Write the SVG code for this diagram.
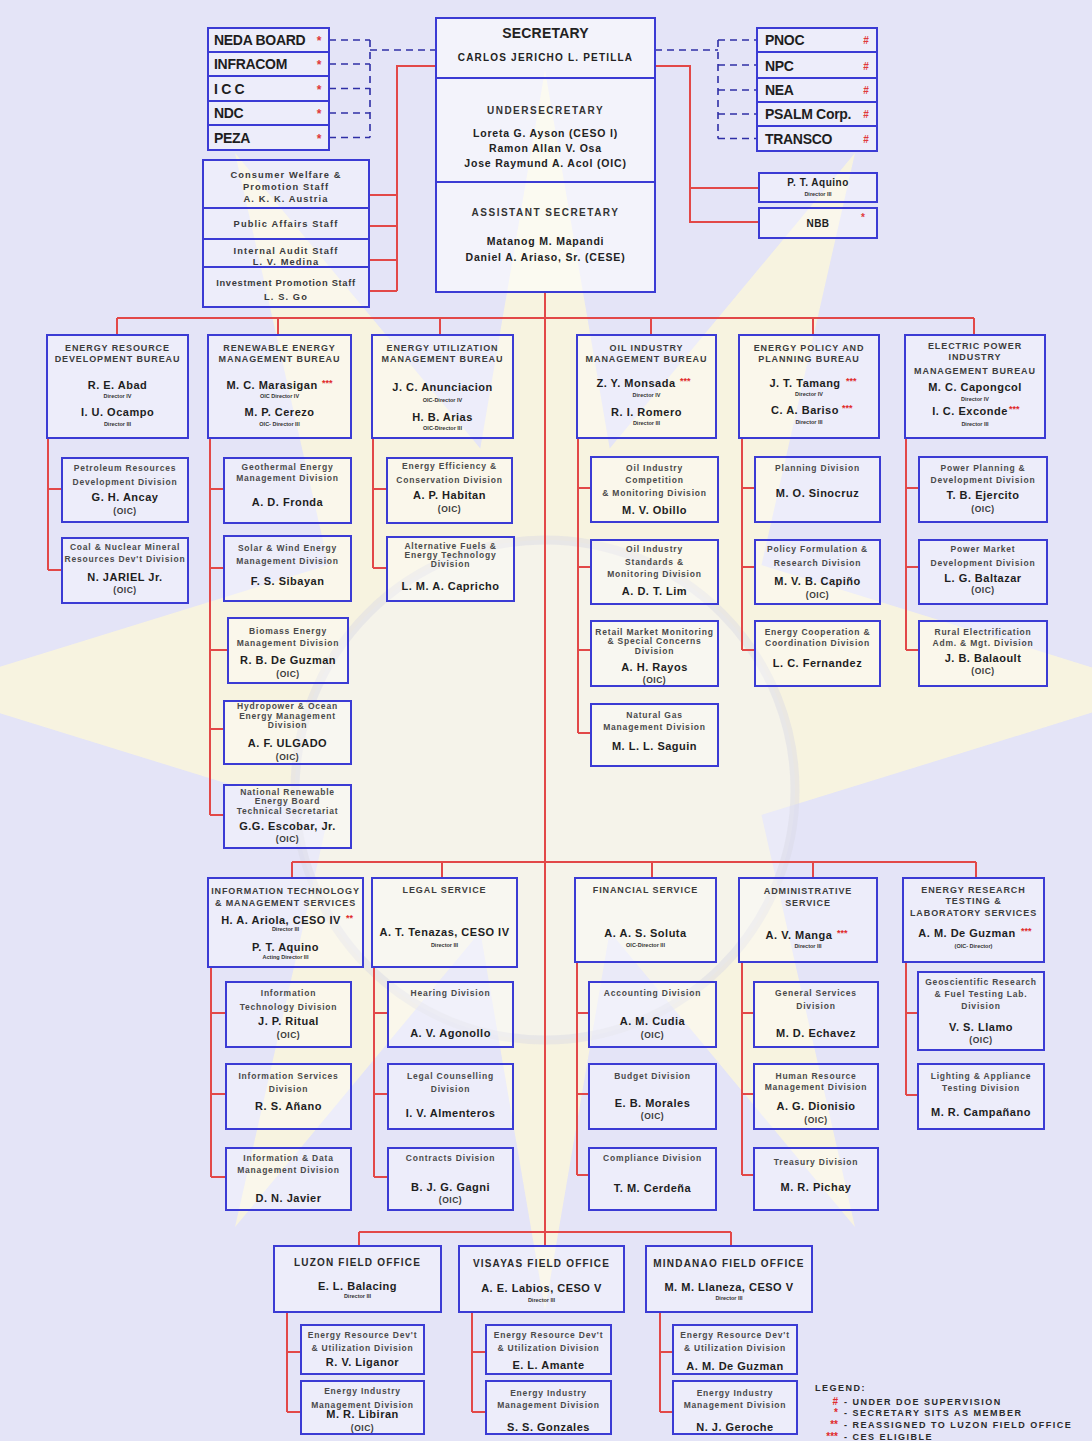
<svg xmlns="http://www.w3.org/2000/svg" width="1092" height="1441" viewBox="0 0 1092 1441">
<defs>
<style>
.box{fill:#ffffff;fill-opacity:.35;stroke:#3b3bd4;stroke-width:2}
.ln{fill:none;stroke:#e24848;stroke-width:2}
.dash{fill:none;stroke:#2f2fa6;stroke-width:1.6;stroke-dasharray:7 5}
.t{font-family:"Liberation Sans",Arial,Helvetica,sans-serif;font-weight:bold;text-anchor:middle;fill:#222}
.cm{font-size:14px;text-anchor:start;letter-spacing:-.3px;fill:#1e1e1e}
.hd{font-size:9px;letter-spacing:.9px;fill:#3c3c3c}
.nm{font-size:11px;letter-spacing:.5px;fill:#1e1e1e}
.sub{font-size:5.5px;fill:#333}
.dv{font-size:8.5px;letter-spacing:.8px;fill:#4a4a4a}
.oic{font-size:8.5px;letter-spacing:.5px;fill:#3a3a3a}
.st{font-size:9.3px;letter-spacing:1.1px;fill:#3a3a3a}
.sec{font-size:14px;letter-spacing:.2px}
.sn{font-size:10px;letter-spacing:1.2px}
.sl{font-size:10px;letter-spacing:1.5px;fill:#333}
.sp{font-size:10.5px;letter-spacing:.8px}
.fo{font-size:10px;letter-spacing:1.2px;fill:#2a2a2a}
.ast{font-size:9px;text-anchor:start;fill:#e02a2a}
.cast{font-size:12px;text-anchor:middle;fill:#e03a3a}
.lg{font-size:9px;letter-spacing:1.5px;text-anchor:start;fill:#2a2a2a}
.lgs{font-size:10px;text-anchor:end;fill:#e02a2a}
</style>
</defs>

<!-- backdrop: pale field with a large sun watermark -->
<g id="backdrop">
<rect width="1092" height="1441" fill="#e4e4f7"/>
<polygon fill="#faf6dc" fill-opacity=".85" points="1165,690 761.5,815 855,1227 609.7,931.5 545,1310 480.3,931.5 235,1227 328.5,815 -75,690 328.5,565 235,153 480.3,448.5 545,70 609.7,448.5 855,153 761.5,565"/>
<circle cx="545" cy="790" r="250" fill="#f2f2fa" fill-opacity=".4" stroke="#d9d9e5" stroke-width="9" stroke-opacity=".45"/>
</g>

<!-- connectors -->
<g id="connectors">
<path class="dash" d="M329 40H370 M329 64H370 M329 88.5H370 M329 113H370 M329 137.5H370 M370 40V137.5 M370 50H436"/>
<path class="dash" d="M655 50H718 M718 40V138.5 M718 40H757 M718 65H757 M718 90H757 M718 114H757 M718 138.5H757"/>
<path class="ln" d="M436 66H397V291 M369 195H397 M369 226H397 M369 260H397 M369 291H397
M655 66H690V222H759 M690 188H759
M545 292V1246
M117 318H974 M117 318V335 M278 318V335 M440 318V335 M651 318V335 M813 318V335 M974 318V335
M48 438V570 M48 489H62 M48 570H62
M210 438V815 M210 489H224 M210 568H224 M210 650H228 M210 729H224 M210 815H224
M373 438V568 M373 489H387 M373 568H387
M578 438V733 M578 488H591 M578 567H591 M578 650H591 M578 733H591
M742 438V650 M742 488H755 M742 567H755 M742 650H755
M906 438V650 M906 488H919 M906 567H919 M906 650H919
M292 862H976 M292 862V878 M442 862V878 M652 862V878 M813 862V878 M976 862V878
M211 967V1177 M211 1013H226 M211 1094H226 M211 1177H226
M374 967V1177 M374 1013H388 M374 1094H388 M374 1177H388
M577 962V1175 M577 1013H589 M577 1094H589 M577 1175H589
M742 962V1175 M742 1013H754 M742 1094H754 M742 1175H754
M906 962V1095 M906 1013H918 M906 1095H918
M359 1232H731 M359 1232V1246 M731 1232V1246
M287 1312V1412 M287 1352H301 M287 1412H301
M472 1312V1412 M472 1352H486 M472 1412H486
M660 1312V1412 M660 1352H673 M660 1412H673"/>
</g>

<!-- attached agencies, left -->
<g id="neda-board"><rect class="box" x="208" y="28" width="121" height="24"/><text class="t cm" x="214" y="45">NEDA BOARD</text><text class="t cast" x="319" y="45">*</text></g>
<g id="infracom"><rect class="box" x="208" y="52" width="121" height="24"/><text class="t cm" x="214" y="69">INFRACOM</text><text class="t cast" x="319" y="69">*</text></g>
<g id="icc"><rect class="box" x="208" y="76" width="121" height="25"/><text class="t cm" x="214" y="94">I C C</text><text class="t cast" x="319" y="94">*</text></g>
<g id="ndc"><rect class="box" x="208" y="101" width="121" height="24"/><text class="t cm" x="214" y="118">NDC</text><text class="t cast" x="319" y="118">*</text></g>
<g id="peza"><rect class="box" x="208" y="125" width="121" height="25"/><text class="t cm" x="214" y="143">PEZA</text><text class="t cast" x="319" y="143">*</text></g>

<!-- attached agencies, right -->
<g id="pnoc"><rect class="box" x="757" y="28" width="120" height="24"/><text class="t cm" x="765" y="45">PNOC</text><text class="t cast" x="866" y="44" style="font-size:10px">#</text></g>
<g id="npc"><rect class="box" x="757" y="52" width="120" height="26"/><text class="t cm" x="765" y="71">NPC</text><text class="t cast" x="866" y="70" style="font-size:10px">#</text></g>
<g id="nea"><rect class="box" x="757" y="78" width="120" height="24"/><text class="t cm" x="765" y="95">NEA</text><text class="t cast" x="866" y="94" style="font-size:10px">#</text></g>
<g id="psalm"><rect class="box" x="757" y="102" width="120" height="24"/><text class="t cm" x="765" y="119">PSALM Corp.</text><text class="t cast" x="866" y="118" style="font-size:10px">#</text></g>
<g id="transco"><rect class="box" x="757" y="126" width="120" height="25"/><text class="t cm" x="765" y="144">TRANSCO</text><text class="t cast" x="866" y="143" style="font-size:10px">#</text></g>

<!-- staff units -->
<g id="consumer-welfare"><rect class="box" x="203" y="160" width="166" height="48"/><text class="t st" x="286" y="178">Consumer Welfare &amp;</text><text class="t st" x="286" y="190">Promotion Staff</text><text class="t st" x="286" y="202">A. K. K. Austria</text></g>
<g id="public-affairs"><rect class="box" x="203" y="208" width="166" height="31"/><text class="t st" x="286" y="227">Public Affairs Staff</text></g>
<g id="internal-audit"><rect class="box" x="203" y="239" width="166" height="28"/><text class="t st" x="286" y="254">Internal Audit Staff</text><text class="t st" x="286" y="265">L. V. Medina</text></g>
<g id="investment-promotion"><rect class="box" x="203" y="267" width="166" height="40"/><text class="t st" x="286" y="285.5" style="letter-spacing:.7px">Investment Promotion Staff</text><text class="t st" x="286" y="300">L. S. Go</text></g>

<!-- office of the secretary -->
<g id="secretary">
<rect class="box" x="436" y="18" width="219" height="274" style="fill-opacity:.55"/>
<path d="M436 78H655 M436 182H655" stroke="#3b3bd4" stroke-width="2"/>
<text class="t sec" x="545.5" y="38">SECRETARY</text>
<text class="t sn" x="545.5" y="60.5">CARLOS JERICHO L. PETILLA</text>
<text class="t sl" x="545.5" y="113.5">UNDERSECRETARY</text>
<text class="t sp" x="545.5" y="137">Loreta G. Ayson (CESO I)</text>
<text class="t sp" x="545.5" y="152">Ramon Allan V. Osa</text>
<text class="t sp" x="545.5" y="167">Jose Raymund A. Acol (OIC)</text>
<text class="t sl" x="545.5" y="215.5">ASSISTANT  SECRETARY</text>
<text class="t sp" x="545.5" y="245">Matanog M. Mapandi</text>
<text class="t sp" x="545.5" y="261">Daniel A. Ariaso, Sr. (CESE)</text>
</g>

<g id="pt-aquino"><rect class="box" x="759" y="173" width="118" height="29"/><text class="t nm" x="818" y="186" style="font-size:10px">P. T. Aquino</text><text class="t sub" x="818" y="196">Director III</text></g>
<g id="nbb"><rect class="box" x="759" y="208" width="118" height="30"/><text class="t nm" x="818" y="227" style="font-size:10px">NBB</text><text class="t cast" x="863" y="221" style="font-size:10px">*</text></g>

<!-- bureaus -->
<g id="erdb"><rect class="box" x="47" y="335" width="141" height="103"/>
<text class="t hd" x="117.5" y="350.5">ENERGY RESOURCE</text><text class="t hd" x="117.5" y="361.5">DEVELOPMENT BUREAU</text>
<text class="t nm" x="117.5" y="389">R. E. Abad</text><text class="t sub" x="117.5" y="398">Director IV</text>
<text class="t nm" x="117.5" y="416">I. U. Ocampo</text><text class="t sub" x="117.5" y="426">Director III</text></g>

<g id="remb"><rect class="box" x="208" y="335" width="143" height="103"/>
<text class="t hd" x="279.5" y="350.5">RENEWABLE ENERGY</text><text class="t hd" x="279.5" y="361.5">MANAGEMENT BUREAU</text>
<text class="t nm" x="272" y="389">M. C. Marasigan</text><text class="t ast" x="322" y="386">***</text><text class="t sub" x="279.5" y="398">OIC Director IV</text>
<text class="t nm" x="279.5" y="416">M. P. Cerezo</text><text class="t sub" x="279.5" y="426">OIC- Director III</text></g>

<g id="eumb"><rect class="box" x="372" y="335" width="141" height="103"/>
<text class="t hd" x="442.5" y="350.5">ENERGY UTILIZATION</text><text class="t hd" x="442.5" y="361.5">MANAGEMENT BUREAU</text>
<text class="t nm" x="442.5" y="391">J. C. Anunciacion</text><text class="t sub" x="442.5" y="402">OIC-Director IV</text>
<text class="t nm" x="442.5" y="421">H. B. Arias</text><text class="t sub" x="442.5" y="430">OIC-Director III</text></g>

<g id="oimb"><rect class="box" x="577" y="335" width="139" height="103"/>
<text class="t hd" x="646.5" y="350.5">OIL INDUSTRY</text><text class="t hd" x="646.5" y="361.5">MANAGEMENT BUREAU</text>
<text class="t nm" x="636" y="387">Z. Y. Monsada</text><text class="t ast" x="680" y="384">***</text><text class="t sub" x="646.5" y="397">Director IV</text>
<text class="t nm" x="646.5" y="416">R. I. Romero</text><text class="t sub" x="646.5" y="425">Director III</text></g>

<g id="eppb"><rect class="box" x="739" y="335" width="140" height="103"/>
<text class="t hd" x="809" y="350.5">ENERGY POLICY AND</text><text class="t hd" x="809" y="361.5">PLANNING BUREAU</text>
<text class="t nm" x="805" y="387">J. T. Tamang</text><text class="t ast" x="846" y="384">***</text><text class="t sub" x="809" y="396">Director IV</text>
<text class="t nm" x="805" y="414">C. A. Bariso</text><text class="t ast" x="842" y="411">***</text><text class="t sub" x="809" y="424">Director III</text></g>

<g id="epimb"><rect class="box" x="905" y="335" width="140" height="103"/>
<text class="t hd" x="975" y="348.5">ELECTRIC POWER</text><text class="t hd" x="975" y="360">INDUSTRY</text><text class="t hd" x="975" y="374">MANAGEMENT BUREAU</text>
<text class="t nm" x="975" y="391">M. C. Capongcol</text><text class="t sub" x="975" y="401">Director IV</text>
<text class="t nm" x="970" y="415">I. C. Exconde</text><text class="t ast" x="1009" y="412">***</text><text class="t sub" x="975" y="426">Director III</text></g>

<!-- ERDB divisions -->
<g id="prdd"><rect class="box" x="62" y="458" width="126" height="64"/><text class="t dv" x="125" y="471">Petroleum Resources</text><text class="t dv" x="125" y="485">Development Division</text><text class="t nm" x="125" y="501">G. H. Ancay</text><text class="t oic" x="125" y="514">(OIC)</text></g>
<g id="cnmrdd"><rect class="box" x="62" y="538" width="126" height="65"/><text class="t dv" x="125" y="550">Coal &amp; Nuclear Mineral</text><text class="t dv" x="125" y="562">Resources Dev't Division</text><text class="t nm" x="125" y="581">N. JARIEL Jr.</text><text class="t oic" x="125" y="593">(OIC)</text></g>

<!-- REMB divisions -->
<g id="gemd"><rect class="box" x="224" y="458" width="127" height="65"/><text class="t dv" x="287.5" y="470">Geothermal Energy</text><text class="t dv" x="287.5" y="481">Management Division</text><text class="t nm" x="287.5" y="506">A. D. Fronda</text></g>
<g id="swemd"><rect class="box" x="224" y="536" width="127" height="65"/><text class="t dv" x="287.5" y="551">Solar &amp; Wind Energy</text><text class="t dv" x="287.5" y="564">Management Division</text><text class="t nm" x="287.5" y="585">F. S. Sibayan</text></g>
<g id="bemd"><rect class="box" x="228" y="618" width="120" height="65"/><text class="t dv" x="288" y="634">Biomass Energy</text><text class="t dv" x="288" y="646">Management Division</text><text class="t nm" x="288" y="664">R. B. De Guzman</text><text class="t oic" x="288" y="677">(OIC)</text></g>
<g id="hoemd"><rect class="box" x="224" y="701" width="127" height="63"/><text class="t dv" x="287.5" y="709">Hydropower &amp; Ocean</text><text class="t dv" x="287.5" y="719">Energy Management</text><text class="t dv" x="287.5" y="728">Division</text><text class="t nm" x="287.5" y="747">A. F. ULGADO</text><text class="t oic" x="287.5" y="760">(OIC)</text></g>
<g id="nreb"><rect class="box" x="224" y="785" width="127" height="63"/><text class="t dv" x="287.5" y="795">National Renewable</text><text class="t dv" x="287.5" y="803.5">Energy Board</text><text class="t dv" x="287.5" y="814">Technical Secretariat</text><text class="t nm" x="287.5" y="830">G.G. Escobar, Jr.</text><text class="t oic" x="287.5" y="842">(OIC)</text></g>

<!-- EUMB divisions -->
<g id="eecd"><rect class="box" x="387" y="458" width="125" height="65"/><text class="t dv" x="449.5" y="469">Energy Efficiency &amp;</text><text class="t dv" x="449.5" y="483">Conservation Division</text><text class="t nm" x="449.5" y="499">A. P. Habitan</text><text class="t oic" x="449.5" y="512">(OIC)</text></g>
<g id="afetd"><rect class="box" x="387" y="537" width="127" height="64"/><text class="t dv" x="450.5" y="549">Alternative Fuels &amp;</text><text class="t dv" x="450.5" y="558">Energy Technology</text><text class="t dv" x="450.5" y="567">Division</text><text class="t nm" x="450.5" y="590">L. M. A. Capricho</text></g>

<!-- OIMB divisions -->
<g id="oicmd"><rect class="box" x="591" y="457" width="127" height="65"/><text class="t dv" x="654.5" y="471">Oil Industry</text><text class="t dv" x="654.5" y="483">Competition</text><text class="t dv" x="654.5" y="496">&amp; Monitoring Division</text><text class="t nm" x="654.5" y="514">M. V. Obillo</text></g>
<g id="oismd"><rect class="box" x="591" y="540" width="127" height="64"/><text class="t dv" x="654.5" y="552">Oil Industry</text><text class="t dv" x="654.5" y="565">Standards &amp;</text><text class="t dv" x="654.5" y="577">Monitoring Division</text><text class="t nm" x="654.5" y="595">A. D. T. Lim</text></g>
<g id="rmmscd"><rect class="box" x="591" y="621" width="127" height="65"/><text class="t dv" x="654.5" y="635">Retail Market Monitoring</text><text class="t dv" x="654.5" y="644">&amp; Special Concerns</text><text class="t dv" x="654.5" y="654">Division</text><text class="t nm" x="654.5" y="671">A. H. Rayos</text><text class="t oic" x="654.5" y="683">(OIC)</text></g>
<g id="ngmd"><rect class="box" x="591" y="704" width="127" height="62"/><text class="t dv" x="654.5" y="718">Natural Gas</text><text class="t dv" x="654.5" y="730">Management Division</text><text class="t nm" x="654.5" y="750">M. L. L. Saguin</text></g>

<!-- EPPB divisions -->
<g id="pd"><rect class="box" x="755" y="457" width="125" height="65"/><text class="t dv" x="817.5" y="471">Planning Division</text><text class="t nm" x="817.5" y="497">M. O. Sinocruz</text></g>
<g id="pfrd"><rect class="box" x="755" y="540" width="125" height="64"/><text class="t dv" x="817.5" y="552">Policy Formulation &amp;</text><text class="t dv" x="817.5" y="566">Research Division</text><text class="t nm" x="817.5" y="585">M. V. B. Capiño</text><text class="t oic" x="817.5" y="598">(OIC)</text></g>
<g id="eccd"><rect class="box" x="755" y="621" width="125" height="65"/><text class="t dv" x="817.5" y="635">Energy Cooperation &amp;</text><text class="t dv" x="817.5" y="646">Coordination Division</text><text class="t nm" x="817.5" y="667">L. C. Fernandez</text></g>

<!-- EPIMB divisions -->
<g id="ppdd"><rect class="box" x="919" y="457" width="128" height="65"/><text class="t dv" x="983" y="471">Power Planning &amp;</text><text class="t dv" x="983" y="483">Development Division</text><text class="t nm" x="983" y="499">T. B. Ejercito</text><text class="t oic" x="983" y="512">(OIC)</text></g>
<g id="pmdd"><rect class="box" x="919" y="540" width="128" height="64"/><text class="t dv" x="983" y="552">Power Market</text><text class="t dv" x="983" y="566">Development Division</text><text class="t nm" x="983" y="582">L. G. Baltazar</text><text class="t oic" x="983" y="593">(OIC)</text></g>
<g id="reamd"><rect class="box" x="919" y="621" width="128" height="65"/><text class="t dv" x="983" y="635">Rural Electrification</text><text class="t dv" x="983" y="646">Adm. &amp; Mgt. Division</text><text class="t nm" x="983" y="662">J. B. Balaoult</text><text class="t oic" x="983" y="674">(OIC)</text></g>

<!-- services -->
<g id="itms"><rect class="box" x="208" y="878" width="155" height="89"/>
<text class="t hd" x="285.5" y="894">INFORMATION TECHNOLOGY</text><text class="t hd" x="285.5" y="906">&amp; MANAGEMENT SERVICES</text>
<text class="t nm" x="281" y="924">H. A. Ariola, CESO IV</text><text class="t ast" x="346" y="921">**</text><text class="t sub" x="285.5" y="931">Director III</text>
<text class="t nm" x="285.5" y="951">P. T. Aquino</text><text class="t sub" x="285.5" y="959">Acting Director III</text></g>
<g id="legal"><rect class="box" x="372" y="878" width="145" height="89"/>
<text class="t hd" x="444.5" y="893">LEGAL SERVICE</text>
<text class="t nm" x="444.5" y="936">A. T. Tenazas, CESO IV</text><text class="t sub" x="444.5" y="947">Director III</text></g>
<g id="financial"><rect class="box" x="575" y="878" width="141" height="84"/>
<text class="t hd" x="645.5" y="893">FINANCIAL SERVICE</text>
<text class="t nm" x="645.5" y="937">A. A. S. Soluta</text><text class="t sub" x="645.5" y="947">OIC-Director III</text></g>
<g id="administrative"><rect class="box" x="739" y="878" width="138" height="84"/>
<text class="t hd" x="808" y="894">ADMINISTRATIVE</text><text class="t hd" x="808" y="906">SERVICE</text>
<text class="t nm" x="799" y="939">A. V. Manga</text><text class="t ast" x="837" y="936">***</text><text class="t sub" x="808" y="948">Director III</text></g>
<g id="ertls"><rect class="box" x="903" y="878" width="141" height="84"/>
<text class="t hd" x="973.5" y="893">ENERGY RESEARCH</text><text class="t hd" x="973.5" y="904">TESTING &amp;</text><text class="t hd" x="973.5" y="916">LABORATORY SERVICES</text>
<text class="t nm" x="967" y="937">A. M. De Guzman</text><text class="t ast" x="1021" y="934">***</text><text class="t sub" x="973.5" y="948">(OIC- Director)</text></g>

<!-- ITMS divisions -->
<g id="itd"><rect class="box" x="226" y="982" width="125" height="65"/><text class="t dv" x="288.5" y="996">Information</text><text class="t dv" x="288.5" y="1010">Technology Division</text><text class="t nm" x="288.5" y="1025">J. P. Ritual</text><text class="t oic" x="288.5" y="1038">(OIC)</text></g>
<g id="isd"><rect class="box" x="226" y="1064" width="125" height="65"/><text class="t dv" x="288.5" y="1079">Information Services</text><text class="t dv" x="288.5" y="1092">Division</text><text class="t nm" x="288.5" y="1110">R. S. Añano</text></g>
<g id="idmd"><rect class="box" x="226" y="1148" width="125" height="62"/><text class="t dv" x="288.5" y="1161">Information &amp; Data</text><text class="t dv" x="288.5" y="1173">Management Division</text><text class="t nm" x="288.5" y="1202">D. N. Javier</text></g>

<!-- Legal divisions -->
<g id="hearing"><rect class="box" x="388" y="982" width="125" height="65"/><text class="t dv" x="450.5" y="996">Hearing Division</text><text class="t nm" x="450.5" y="1037">A. V. Agonollo</text></g>
<g id="counselling"><rect class="box" x="388" y="1064" width="125" height="65"/><text class="t dv" x="450.5" y="1079">Legal Counselling</text><text class="t dv" x="450.5" y="1092">Division</text><text class="t nm" x="450.5" y="1117">I. V. Almenteros</text></g>
<g id="contracts"><rect class="box" x="388" y="1148" width="125" height="62"/><text class="t dv" x="450.5" y="1161">Contracts Division</text><text class="t nm" x="450.5" y="1191">B. J. G. Gagni</text><text class="t oic" x="450.5" y="1203">(OIC)</text></g>

<!-- Financial divisions -->
<g id="accounting"><rect class="box" x="589" y="982" width="127" height="65"/><text class="t dv" x="652.5" y="996">Accounting Division</text><text class="t nm" x="652.5" y="1025">A. M. Cudia</text><text class="t oic" x="652.5" y="1038">(OIC)</text></g>
<g id="budget"><rect class="box" x="589" y="1064" width="127" height="65"/><text class="t dv" x="652.5" y="1079">Budget Division</text><text class="t nm" x="652.5" y="1107">E. B. Morales</text><text class="t oic" x="652.5" y="1119">(OIC)</text></g>
<g id="compliance"><rect class="box" x="589" y="1148" width="127" height="62"/><text class="t dv" x="652.5" y="1161">Compliance Division</text><text class="t nm" x="652.5" y="1192">T. M. Cerdeña</text></g>

<!-- Administrative divisions -->
<g id="gsd"><rect class="box" x="754" y="982" width="124" height="65"/><text class="t dv" x="816" y="996">General Services</text><text class="t dv" x="816" y="1009">Division</text><text class="t nm" x="816" y="1037">M. D. Echavez</text></g>
<g id="hrmd"><rect class="box" x="754" y="1064" width="124" height="65"/><text class="t dv" x="816" y="1079">Human Resource</text><text class="t dv" x="816" y="1090">Management Division</text><text class="t nm" x="816" y="1110">A. G. Dionisio</text><text class="t oic" x="816" y="1123">(OIC)</text></g>
<g id="treasury"><rect class="box" x="754" y="1148" width="124" height="62"/><text class="t dv" x="816" y="1165">Treasury Division</text><text class="t nm" x="816" y="1191">M. R. Pichay</text></g>

<!-- ERTLS divisions -->
<g id="grftld"><rect class="box" x="918" y="972" width="126" height="78"/><text class="t dv" x="981" y="985">Geoscientific Research</text><text class="t dv" x="981" y="997">&amp; Fuel Testing Lab.</text><text class="t dv" x="981" y="1009">Division</text><text class="t nm" x="981" y="1031">V. S. Llamo</text><text class="t oic" x="981" y="1043">(OIC)</text></g>
<g id="latd"><rect class="box" x="918" y="1064" width="126" height="65"/><text class="t dv" x="981" y="1079">Lighting &amp; Appliance</text><text class="t dv" x="981" y="1091">Testing Division</text><text class="t nm" x="981" y="1116">M. R. Campañano</text></g>

<!-- field offices -->
<g id="luzon"><rect class="box" x="274" y="1246" width="167" height="66"/><text class="t fo" x="357.5" y="1266">LUZON FIELD OFFICE</text><text class="t nm" x="357.5" y="1290">E. L. Balacing</text><text class="t sub" x="357.5" y="1298">Director III</text></g>
<g id="visayas"><rect class="box" x="459" y="1246" width="165" height="66"/><text class="t fo" x="541.5" y="1267">VISAYAS FIELD OFFICE</text><text class="t nm" x="541.5" y="1292">A. E. Labios, CESO V</text><text class="t sub" x="541.5" y="1302">Director III</text></g>
<g id="mindanao"><rect class="box" x="646" y="1246" width="166" height="66"/><text class="t fo" x="729" y="1267">MINDANAO FIELD OFFICE</text><text class="t nm" x="729" y="1291">M. M. Llaneza, CESO V</text><text class="t sub" x="729" y="1300">Director III</text></g>

<g id="luzon-erdud"><rect class="box" x="301" y="1325" width="123" height="49"/><text class="t dv" x="362.5" y="1338">Energy Resource Dev't</text><text class="t dv" x="362.5" y="1351">&amp; Utilization Division</text><text class="t nm" x="362.5" y="1366">R. V. Liganor</text></g>
<g id="luzon-eimd"><rect class="box" x="301" y="1381" width="123" height="53"/><text class="t dv" x="362.5" y="1394">Energy Industry</text><text class="t dv" x="362.5" y="1408">Management Division</text><text class="t nm" x="362.5" y="1418">M. R. Libiran</text><text class="t oic" x="362.5" y="1431">(OIC)</text></g>
<g id="visayas-erdud"><rect class="box" x="486" y="1325" width="125" height="49"/><text class="t dv" x="548.5" y="1338">Energy Resource Dev't</text><text class="t dv" x="548.5" y="1351">&amp; Utilization Division</text><text class="t nm" x="548.5" y="1369">E. L. Amante</text></g>
<g id="visayas-eimd"><rect class="box" x="486" y="1381" width="125" height="53"/><text class="t dv" x="548.5" y="1396">Energy Industry</text><text class="t dv" x="548.5" y="1408">Management Division</text><text class="t nm" x="548.5" y="1431">S. S. Gonzales</text></g>
<g id="mindanao-erdud"><rect class="box" x="673" y="1325" width="124" height="49"/><text class="t dv" x="735" y="1338">Energy Resource Dev't</text><text class="t dv" x="735" y="1351">&amp; Utilization Division</text><text class="t nm" x="735" y="1370">A. M. De Guzman</text></g>
<g id="mindanao-eimd"><rect class="box" x="673" y="1381" width="124" height="53"/><text class="t dv" x="735" y="1396">Energy Industry</text><text class="t dv" x="735" y="1408">Management Division</text><text class="t nm" x="735" y="1431">N. J. Geroche</text></g>

<!-- legend -->
<g id="legend">
<text class="t lg" x="815" y="1391">LEGEND:</text>
<text class="t lgs" x="838" y="1405">#</text><text class="t lg" x="844" y="1405">- UNDER DOE SUPERVISION</text>
<text class="t lgs" x="838" y="1416">*</text><text class="t lg" x="844" y="1416">- SECRETARY SITS AS MEMBER</text>
<text class="t lgs" x="838" y="1428">**</text><text class="t lg" x="844" y="1428">- REASSIGNED TO LUZON FIELD OFFICE</text>
<text class="t lgs" x="838" y="1440">***</text><text class="t lg" x="844" y="1440">- CES ELIGIBLE</text>
</g>
</svg>
